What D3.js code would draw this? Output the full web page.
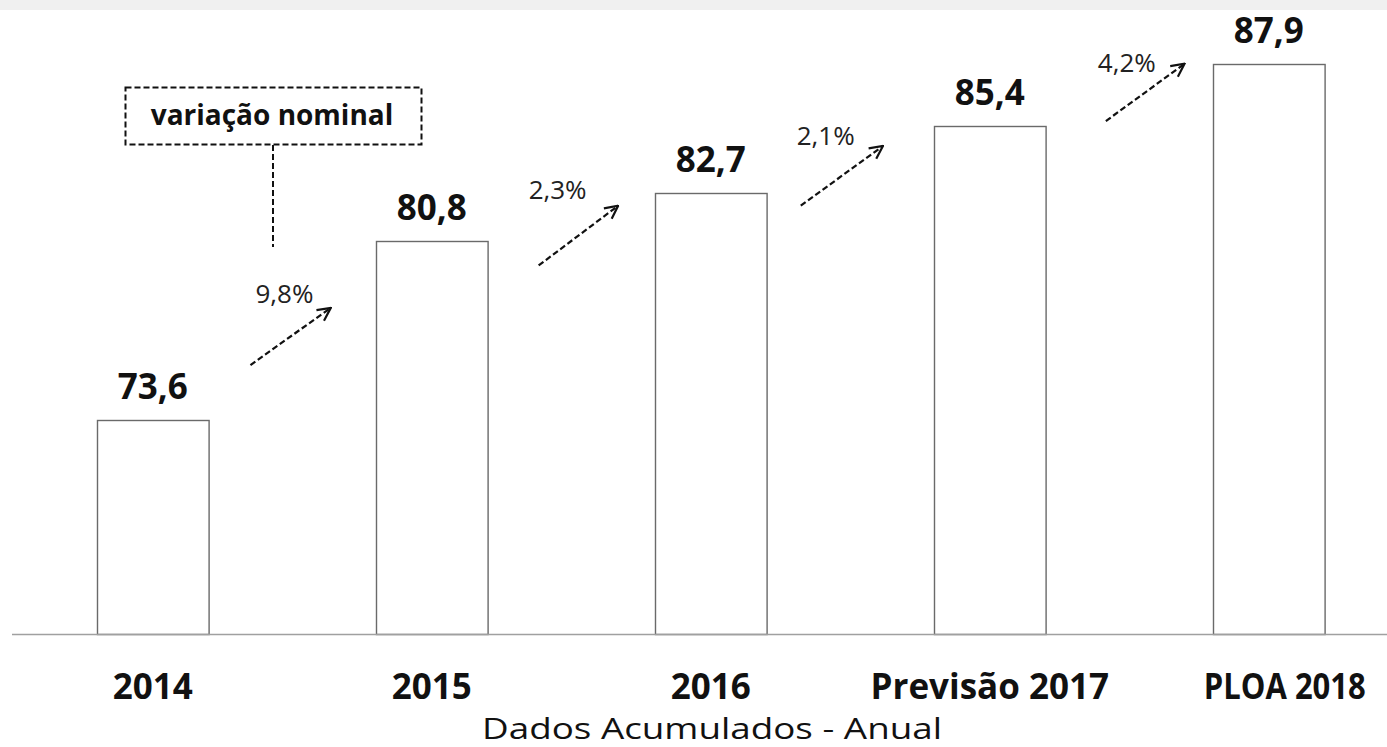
<!DOCTYPE html>
<html>
<head>
<meta charset="utf-8">
<script src="https://cdn.jsdelivr.net/npm/d3@7"></script>
<style>
  html, body { margin: 0; padding: 0; background: #fff; }
  svg { display: block; }
</style>
</head>
<body>
<svg id="chart"></svg>
<script>
// Chart data
const categories = ["2014", "2015", "2016", "Previsão 2017", "PLOA 2018"];
const values = [73.6, 80.8, 82.7, 85.4, 87.9];
const valueLabels = ["73,6", "80,8", "82,7", "85,4", "87,9"];
const growthLabels = ["9,8%", "2,3%", "2,1%", "4,2%"];
// arrow start / end levels (in value units) for the annotation arrows
const arrowFrom = [75.8, 79.8, 82.2, 85.6];
const arrowTo = [78.1, 82.2, 84.6, 87.9];

// where each arrow sits inside the gap between two bars (fraction of gap)
const arrowGapPos = [[0.25, 0.73], [0.305, 0.78], [0.204, 0.695], [0.36, 0.83]];
// label offset relative to the arrow (dx from start, dy from tip)
const arrowLabelOffset = [[5, -5], [-10, -7], [-4, -1], [-8, 8]];

const dims = {
    width: 1387,
    height: 747,
    baseline: 634
};

const svg = d3.select("#chart")
    .attr("width", dims.width)
    .attr("height", dims.height);

// grey strip on top
svg.append("rect")
    .attr("x", 0).attr("y", 0)
    .attr("width", dims.width).attr("height", 10)
    .attr("fill", "#f0f0f0");

const x = d3.scaleBand()
    .domain(categories)
    .range([13.3, 1408.3])
    .paddingInner(0.6)
    .paddingOuter(0.3);

const y = d3.scaleLinear()
    .domain([65, 88])
    .range([dims.baseline, dims.baseline - 23 * 24.9]);

const font = "'Open Sans', sans-serif";

// bars
svg.append("g")
    .selectAll("rect")
    .data(values)
    .join("rect")
    .attr("x", (d, i) => x(categories[i]) + 0.5)
    .attr("y", d => Math.round(y(d)) + 0.5)
    .attr("width", x.bandwidth())
    .attr("height", d => dims.baseline - Math.round(y(d)))
    .attr("fill", "#fff")
    .attr("stroke", "#6a6a6a")
    .attr("stroke-width", 1.4);

// x axis (line + labels)
const last = categories.length - 1;
const xAxis = g => g
    .attr("transform", `translate(0, ${dims.baseline + 0.5})`)
    .call(d3.axisBottom(x).tickSize(0).tickPadding(40))
    .call(g => g.select(".domain")
        .attr("d", `M12,0H${dims.width}`)
        .attr("stroke", "#a0a0a0")
        .attr("stroke-width", 1.5))
    .call(g => g.selectAll(".tick text")
        .attr("font-family", font)
        .attr("font-size", 35)
        .attr("font-weight", "bold")
        .attr("fill", "#111")
        .attr("dx", (d, i) => i === last ? 16 : 0)
        .attr("textLength", (d, i) => i === last ? 162 : null)
        .attr("lengthAdjust", "spacingAndGlyphs"));

svg.append("g").call(xAxis);

// value labels
svg.append("g")
    .selectAll("text")
    .data(values)
    .join("text")
    .attr("x", (d, i) => x(categories[i]) + x.bandwidth() / 2)
    .attr("y", d => y(d) - 21)
    .attr("text-anchor", "middle")
    .attr("font-family", font)
    .attr("font-size", 35)
    .attr("font-weight", "bold")
    .attr("fill", "#111")
    .text((d, i) => valueLabels[i]);

// arrow marker
svg.append("defs").append("marker")
    .attr("id", "arrowhead")
    .attr("viewBox", "0 0 16 16")
    .attr("refX", 15).attr("refY", 8)
    .attr("markerWidth", 16).attr("markerHeight", 16)
    .attr("markerUnits", "userSpaceOnUse")
    .attr("orient", "auto")
    .append("path")
    .attr("d", "M2,1.5 L15,8 L2,14.5")
    .attr("fill", "none")
    .attr("stroke", "#111")
    .attr("stroke-width", 2.2);

// growth arrows between bars
const arrows = growthLabels.map((label, i) => {
    const left = x(categories[i]) + x.bandwidth();
    const gap = x(categories[i + 1]) - left;
    return {
        label,
        x0: left + gap * arrowGapPos[i][0],
        x1: left + gap * arrowGapPos[i][1],
        y0: y(arrowFrom[i]),
        y1: y(arrowTo[i]),
        off: arrowLabelOffset[i]
    };
});

const ag = svg.append("g");
ag.selectAll("line")
    .data(arrows)
    .join("line")
    .attr("x1", d => d.x0).attr("y1", d => d.y0)
    .attr("x2", d => d.x1).attr("y2", d => d.y1)
    .attr("stroke", "#111")
    .attr("stroke-width", 2.2)
    .attr("stroke-dasharray", "6,3")
    .attr("marker-end", "url(#arrowhead)");

ag.selectAll("text")
    .data(arrows)
    .join("text")
    .attr("x", d => d.x0 + d.off[0])
    .attr("y", d => d.y1 + d.off[1])
    .attr("font-family", font)
    .attr("font-size", 26)
    .attr("fill", "#222")
    .text(d => d.label);

// legend box "variação nominal"
const lg = svg.append("g");
lg.append("rect")
    .attr("x", 125.5).attr("y", 87.5)
    .attr("width", 296).attr("height", 57)
    .attr("fill", "none")
    .attr("stroke", "#111")
    .attr("stroke-width", 2)
    .attr("stroke-dasharray", "6,3");
lg.append("line")
    .attr("x1", 273).attr("y1", 145)
    .attr("x2", 273).attr("y2", 247)
    .attr("stroke", "#111")
    .attr("stroke-width", 2)
    .attr("stroke-dasharray", "6,3");
lg.append("text")
    .attr("x", 272).attr("y", 125)
    .attr("text-anchor", "middle")
    .attr("font-family", font)
    .attr("font-size", 28)
    .attr("font-weight", "bold")
    .attr("fill", "#111")
    .text("variação nominal");

// bottom title
svg.append("text")
    .attr("x", 712).attr("y", 739)
    .attr("text-anchor", "middle")
    .attr("font-family", font)
    .attr("font-size", 29)
    .attr("fill", "#111")
    .attr("textLength", 460)
    .attr("lengthAdjust", "spacingAndGlyphs")
    .text("Dados Acumulados - Anual");
</script>
</body>
</html>
